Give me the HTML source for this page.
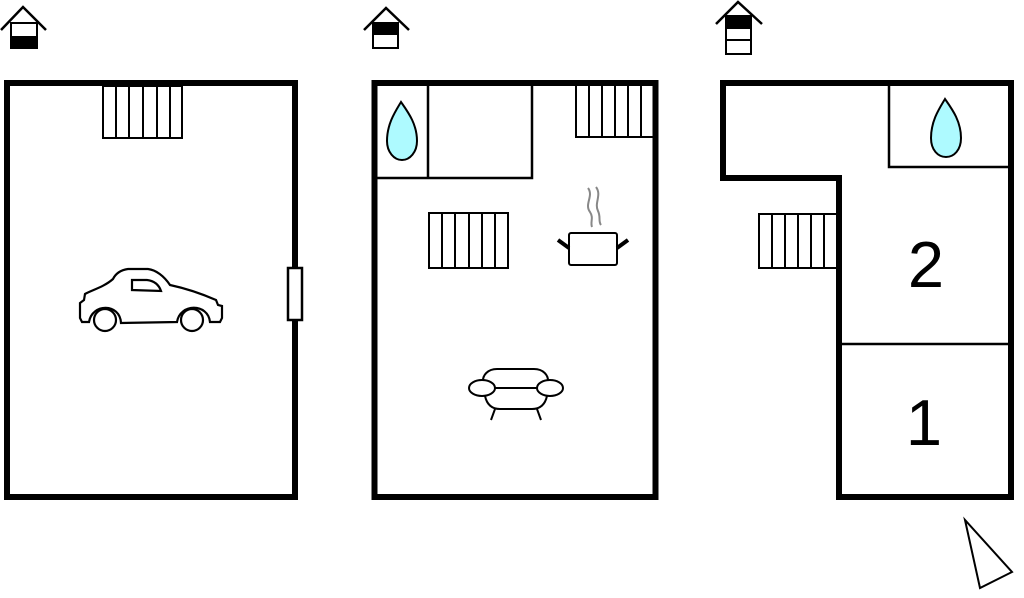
<!DOCTYPE html>
<html><head><meta charset="utf-8"><style>html,body{margin:0;padding:0;background:#fff}svg{display:block}</style></head>
<body>
<svg width="1024" height="598" viewBox="0 0 1024 598" xmlns="http://www.w3.org/2000/svg" fill="none" stroke="#000">
<!-- house icons -->
<g stroke-width="2.5">
<polyline points="1,30 23,7 46,30"/>
<rect x="11" y="23" width="26" height="25" stroke-width="2"/>
<rect x="11" y="36" width="26" height="12" fill="#000" stroke="none"/>
<polyline points="364,30 386,8 409,30"/>
<rect x="373" y="23" width="25" height="25" stroke-width="2"/>
<rect x="373" y="23" width="25" height="12" fill="#000" stroke="none"/>
<polyline points="716,24 738,2 762,24"/>
<rect x="726" y="16" width="25" height="38" stroke-width="2"/>
<rect x="726" y="16" width="25" height="13" fill="#000" stroke="none"/>
<line x1="726" y1="40" x2="751" y2="40" stroke-width="2"/>
</g>
<!-- plan 1 -->
<rect x="7" y="83" width="288" height="414" stroke-width="6"/>
<g stroke-width="2">
<rect x="103" y="86" width="79" height="52"/>
<path d="M116,86V138M129,86V138M143,86V138M157,86V138M170,86V138"/>
</g>
<rect x="288" y="268" width="14" height="52" fill="#fff" stroke-width="2.5"/>
<g stroke-width="2.2" fill="#fff">
<path d="M82,322 L80,318 L80,303 L84,300 L85,294 C92,290 104,287 113,279 C116,273 121,270 128,269 L148,269 C156,270 164,276 170,285 C184,288 200,293 216,300 L218,305 L222,306 L222,318 L220,322 L210,322 C208,303 180,303 177,322 L121,323 C120,303 92,303 89,322 Z"/>
<path d="M132,290 L132,280 L147,280 C155,281 159,285 161,291 Z"/>
<circle cx="105" cy="320" r="11"/>
<circle cx="192" cy="320" r="11"/>
</g>
<!-- plan 2 -->
<rect x="374.5" y="83" width="281" height="414" stroke-width="6"/>
<g stroke-width="2.5">
<path d="M428,84V178M376,178H532V84"/>
</g>
<g stroke-width="2">
<rect x="576" y="85" width="78" height="52"/>
<path d="M589,85V137M602,85V137M615,85V137M628,85V137M641,85V137"/>
<rect x="429" y="213" width="79" height="55"/>
<path d="M442,213V268M455,213V268M469,213V268M482,213V268M495,213V268"/>
</g>
<path d="M401,102 C395,112 387,124 387,141 C387,152 394,160 402,160 C410,160 417,152 417,141 C417,124 408,112 401,102 Z" fill="#aefaff" stroke-width="2"/>
<rect x="569" y="233" width="48" height="32" rx="2" stroke-width="2"/>
<path d="M558,240L569,248M617,248L628,240" stroke-width="4"/>
<path d="M588,188 C594,196 584,204 590,212 C594,218 590,222 592,227 M596,187 C602,195 594,203 598,211 C601,217 598,221 601,225" stroke="#888" stroke-width="2"/>
<g stroke-width="2">
<path d="M483,383 C482,375 488,369 497,369 L534,369 C543,369 549,375 548,383"/>
<ellipse cx="482" cy="388" rx="13" ry="8" fill="#fff"/>
<ellipse cx="550" cy="388" rx="13" ry="8" fill="#fff"/>
<path d="M495,388H537"/>
<path d="M485,396 C487,405 492,409 500,409 L532,409 C540,409 545,405 547,396"/>
<path d="M495,409L491,420M537,409L541,420"/>
</g>
<!-- plan 3 -->
<path d="M723,83 H1011 V497 H839 V178 H723 Z" stroke-width="6"/>
<g stroke-width="2.5">
<path d="M889,84V167H1009M841,344H1009"/>
</g>
<g stroke-width="2">
<rect x="759" y="214" width="78" height="54"/>
<path d="M772,214V268M785,214V268M798,214V268M811,214V268M824,214V268"/>
</g>
<path d="M945,99 C939,109 931,121 931,138 C931,150 938,157 946,157 C954,157 961,150 961,138 C961,121 952,109 945,99 Z" fill="#aefaff" stroke-width="2"/>
<g fill="#000" stroke="none" font-family="Liberation Sans, sans-serif" font-size="65" text-anchor="middle">
<text x="926" y="287">2</text>
<text x="924" y="445">1</text>
</g>
<polygon points="965,520 980,588 1012,572" stroke-width="2"/>
</svg>
</body></html>
